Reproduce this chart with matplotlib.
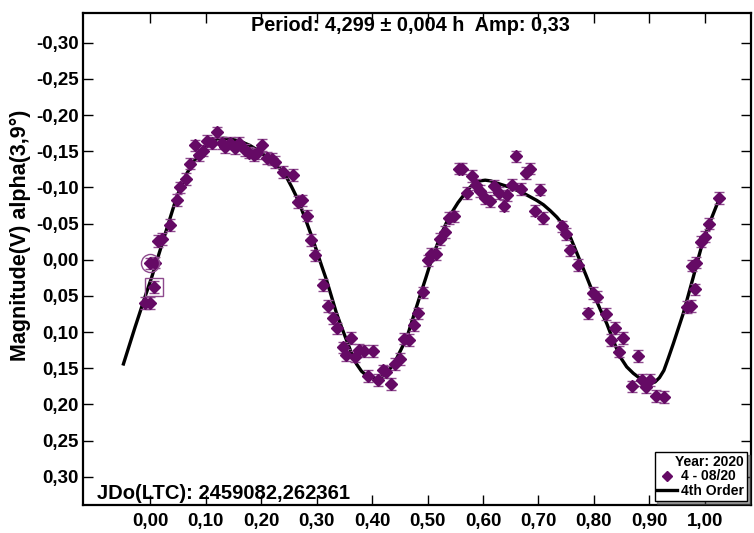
import matplotlib
matplotlib.use("Agg")
import matplotlib.pyplot as plt
from matplotlib.ticker import FuncFormatter, FixedLocator, MultipleLocator

plt.rcParams['font.family'] = ['Liberation Sans', 'DejaVu Sans']
plt.rcParams['font.weight'] = 'bold'

## observed points (phase, magnitude)
phase = [-0.010, 0.000, 0.007, 0.000, 0.008, 0.015, 0.021, 0.036, 0.048, 0.054,
         0.065, 0.072, 0.081, 0.089, 0.096, 0.103, 0.111, 0.120, 0.129, 0.135,
         0.144, 0.153, 0.160, 0.171, 0.179, 0.187, 0.192, 0.201, 0.210, 0.219,
         0.225, 0.240, 0.258, 0.267, 0.273, 0.282, 0.290, 0.297, 0.312, 0.321,
         0.330, 0.337, 0.347, 0.354, 0.362, 0.369, 0.377, 0.386, 0.393, 0.402,
         0.410, 0.419, 0.425, 0.434, 0.441, 0.450, 0.458, 0.467, 0.476, 0.483,
         0.491, 0.500, 0.507, 0.515, 0.523, 0.532, 0.539, 0.548, 0.556, 0.563,
         0.572, 0.580, 0.587, 0.595, 0.604, 0.613, 0.620, 0.628, 0.637, 0.644,
         0.653, 0.659, 0.668, 0.677, 0.685, 0.693, 0.702, 0.709, 0.742, 0.749,
         0.757, 0.772, 0.790, 0.798, 0.805, 0.822, 0.830, 0.838, 0.846, 0.853,
         0.869, 0.879, 0.886, 0.894, 0.901, 0.912, 0.926, 0.968, 0.975, 0.982,
         0.976, 0.984, 0.993, 1.000, 1.008, 1.026]
mag = [0.060, 0.060, 0.038, 0.005, 0.004, -0.026, -0.029, -0.048, -0.083, -0.100,
       -0.112, -0.133, -0.158, -0.145, -0.151, -0.164, -0.161, -0.176, -0.161, -0.156,
       -0.161, -0.154, -0.161, -0.152, -0.148, -0.145, -0.147, -0.159, -0.141, -0.139,
       -0.135, -0.121, -0.117, -0.080, -0.082, -0.061, -0.027, -0.006, 0.035, 0.064,
       0.081, 0.095, 0.121, 0.132, 0.108, 0.134, 0.125, 0.126, 0.161, 0.126,
       0.166, 0.153, 0.155, 0.172, 0.144, 0.137, 0.109, 0.111, 0.090, 0.074,
       0.045, 0.001, -0.008, -0.008, -0.029, -0.038, -0.058, -0.060, -0.126, -0.126,
       -0.092, -0.116, -0.104, -0.095, -0.085, -0.081, -0.102, -0.092, -0.075, -0.089,
       -0.104, -0.143, -0.098, -0.120, -0.126, -0.068, -0.097, -0.058, -0.046, -0.036,
       -0.013, 0.007, 0.074, 0.046, 0.051, 0.075, 0.111, 0.094, 0.127, 0.108,
       0.175, 0.133, 0.166, 0.176, 0.166, 0.188, 0.190, 0.065, 0.064, 0.041,
       0.008, 0.004, -0.025, -0.032, -0.050, -0.085]
mag_err = 0.008

## 4th order fit
fit_phase = [-0.048, -0.027, -0.009, 0.003, 0.018, 0.033, 0.048, 0.066, 0.084, 0.096,
             0.108, 0.120, 0.132, 0.144, 0.156, 0.168, 0.180, 0.195, 0.210, 0.222,
             0.234, 0.246, 0.255, 0.264, 0.273, 0.282, 0.291, 0.300, 0.309, 0.318,
             0.327, 0.336, 0.345, 0.354, 0.363, 0.372, 0.381, 0.390, 0.399, 0.408,
             0.417, 0.426, 0.435, 0.444, 0.453, 0.463, 0.474, 0.486, 0.497, 0.508,
             0.518, 0.528, 0.537, 0.546, 0.555, 0.565, 0.574, 0.583, 0.594, 0.604,
             0.614, 0.625, 0.637, 0.649, 0.661, 0.673, 0.685, 0.697, 0.709, 0.721,
             0.733, 0.745, 0.758, 0.772, 0.786, 0.799, 0.811, 0.823, 0.835, 0.847,
             0.859, 0.871, 0.883, 0.895, 0.903, 0.910, 0.918, 0.926, 0.934, 0.943,
             0.952, 0.961, 0.970, 0.979, 0.988, 0.997, 1.009, 1.021, 1.026]
fit_mag = [0.144, 0.093, 0.051, 0.024, -0.013, -0.050, -0.087, -0.119, -0.142, -0.154,
           -0.163, -0.167, -0.168, -0.167, -0.165, -0.162, -0.158, -0.151, -0.142, -0.135,
           -0.126, -0.114, -0.101, -0.087, -0.070, -0.052, -0.033, -0.013, 0.008, 0.028,
           0.051, 0.074, 0.093, 0.111, 0.129, 0.144, 0.154, 0.160, 0.163, 0.164,
           0.162, 0.157, 0.148, 0.137, 0.123, 0.107, 0.080, 0.051, 0.025, -0.002,
           -0.022, -0.041, -0.056, -0.068, -0.079, -0.089, -0.098, -0.105, -0.109, -0.110,
           -0.109, -0.106, -0.103, -0.100, -0.096, -0.092, -0.087, -0.082, -0.076, -0.068,
           -0.059, -0.048, -0.030, -0.004, 0.022, 0.047, 0.068, 0.088, 0.112, 0.134,
           0.148, 0.157, 0.164, 0.169, 0.170, 0.169, 0.163, 0.153, 0.136, 0.116,
           0.095, 0.074, 0.049, 0.024, -0.002, -0.027, -0.052, -0.075, -0.084]

circled = (0.000, 0.005)
boxed = (0.007, 0.038)

purple = '#650a65'
errcol = '#8e4a8e'

fig = plt.figure(figsize=(7.54, 5.33), dpi=100)
ax = fig.add_axes([0.110, 0.0525, 0.886, 0.923])

ax.plot(fit_phase, fit_mag, color='black', lw=2.4, zorder=2, label='4th Order',
        solid_joinstyle='round')
ax.errorbar(phase, mag, yerr=mag_err, fmt='none', ecolor=errcol, elinewidth=1,
            capsize=3.5, capthick=1, zorder=3)
ax.plot(phase, mag, 'D', color=purple, ms=6.5, mec=purple, zorder=4, label='4 - 08/20')
ax.plot(*circled, 'o', ms=13, mfc='none', mec=errcol, mew=1, zorder=5)
ax.plot(*boxed, 's', ms=13, mfc='none', mec=errcol, mew=1, zorder=5)

ax.set_xlim(-0.121, 1.083)
ax.set_ylim(0.339, -0.341)
ax.xaxis.set_major_locator(FixedLocator([i / 10 for i in range(11)]))
ax.yaxis.set_major_locator(MultipleLocator(0.05))

def fmt(v, pos):
    s = f"{v:.2f}".replace('.', ',')
    return '0,00' if s == '-0,00' else s

ax.xaxis.set_major_formatter(FuncFormatter(fmt))
ax.yaxis.set_major_formatter(FuncFormatter(fmt))
ax.tick_params(direction='in', length=7, width=1, top=True, right=True,
               labelsize=13.5)
ax.tick_params(axis='y', pad=3)
ax.tick_params(axis='x', pad=6)
for lab in ax.get_xticklabels() + ax.get_yticklabels():
    lab.set_fontweight('bold')
for sp in ax.spines.values():
    sp.set_linewidth(1.6)

ax.set_ylabel('Magnitude(V) alpha(3,9°)', fontsize=15.5, fontweight='bold')
ax.yaxis.set_label_coords(-0.078, 0.548)

ax.text(0.49, 0.975, 'Period: 4,299 ± 0,004 h  Amp: 0,33', transform=ax.transAxes,
        ha='center', va='center', fontsize=14.3, fontweight='bold')
ax.text(0.021, 0.024, 'JDo(LTC): 2459082,262361', transform=ax.transAxes,
        ha='left', va='center', fontsize=14.5, fontweight='bold')

handles, labels = ax.get_legend_handles_labels()
leg = ax.legend(handles[::-1], labels[::-1], title='Year: 2020', loc='lower right',
                fontsize=10, title_fontproperties={'weight': 'bold', 'size': 10},
                frameon=True, fancybox=False, shadow=True, edgecolor='black',
                borderpad=0.2, labelspacing=0.05, handlelength=1.4, handletextpad=0.3,
                borderaxespad=0.3, markerscale=0.8)
leg.get_frame().set_linewidth(1)
for t in leg.get_texts():
    t.set_fontweight('bold')
leg._legend_box.align = 'right'

fig.savefig('out.png', dpi=100)
